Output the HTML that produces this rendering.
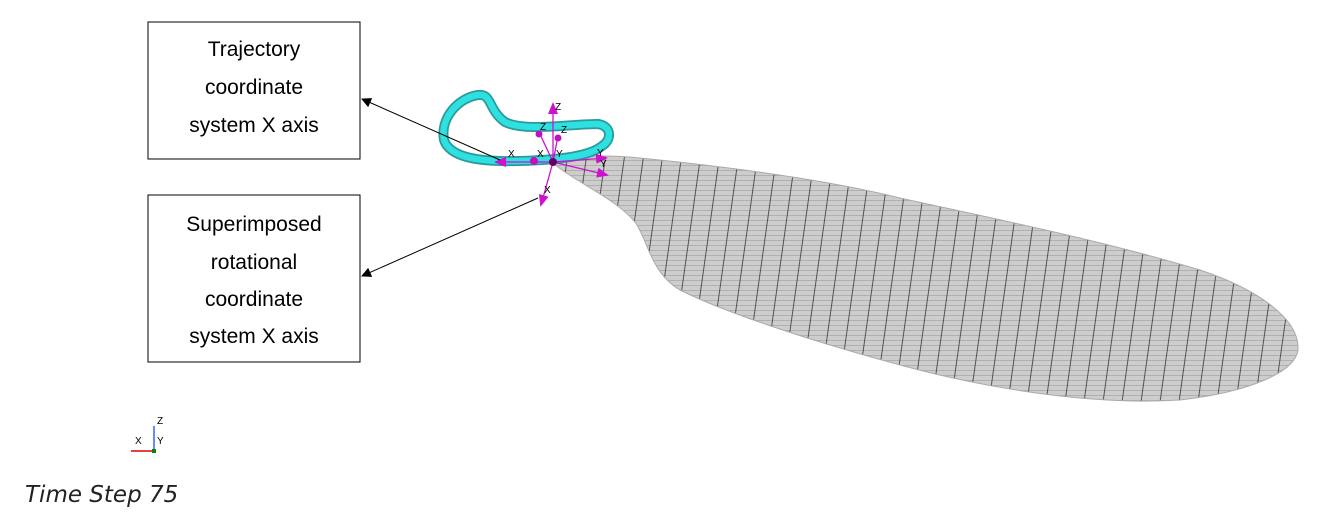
<!DOCTYPE html>
<html><head><meta charset="utf-8"><style>
html,body{margin:0;padding:0;background:#fff;width:1322px;height:522px;overflow:hidden}
svg{display:block}
.box{fill:#fff;stroke:#000;stroke-width:1}
.bt{font-family:"Liberation Sans",sans-serif;font-size:21px;fill:#000;text-anchor:middle}
.ax{font-family:"Liberation Sans",sans-serif;font-size:10px;fill:#000}
</style></head><body>
<svg width="1322" height="522" viewBox="0 0 1322 522">
<defs>
<pattern id="mesh" width="19" height="5" patternUnits="userSpaceOnUse" patternTransform="skewX(-8)">
<rect width="19" height="5" fill="#cdcdcd"/>
<line x1="0" y1="0.5" x2="19" y2="0.5" stroke="#9a9a9a" stroke-width="0.6"/>
<line x1="0.5" y1="0" x2="0.5" y2="5" stroke="#333" stroke-width="0.8"/>
</pattern>
<marker id="ah" markerWidth="10" markerHeight="10" refX="9" refY="5" orient="auto" markerUnits="userSpaceOnUse"><path d="M0,0 L10,5 L0,10 Z" fill="#000"/></marker>
<marker id="mh" markerWidth="12" markerHeight="10" refX="10" refY="5" orient="auto" markerUnits="userSpaceOnUse"><path d="M0,0 L12,5 L0,10 Z" fill="#d010d0"/></marker>
</defs>

<g>
<rect class="box" x="148" y="22" width="212" height="137"/>
<text class="bt" x="254" y="56">Trajectory</text>
<text class="bt" x="254" y="94">coordinate</text>
<text class="bt" x="254" y="132">system X axis</text>
</g>
<g>
<rect class="box" x="148" y="195" width="212" height="167"/>
<text class="bt" x="254" y="231">Superimposed</text>
<text class="bt" x="254" y="269">rotational</text>
<text class="bt" x="254" y="306">coordinate</text>
<text class="bt" x="254" y="343">system X axis</text>
</g>

<path fill="url(#mesh)" stroke="#aaa" stroke-width="1"
d="M553,163 C580,156 600,154 640,158 C720,166 820,178 900,198 C1000,220 1100,240 1200,270 C1260,290 1300,320 1298,350 C1295,372 1250,392 1180,400 C1100,405 1000,392 900,365 C800,338 720,310 680,290 C650,272 648,240 635,222 C615,198 575,182 553,163 Z"/>

<path fill="none" stroke="#2a9a9a" stroke-width="10" stroke-linecap="round"
d="M602,146 C590,156 560,160 520,161 C480,162 450,158 444,140 C440,118 458,98 478,95 C492,93 488,110 505,122 C525,132 570,124 598,124 C612,126 612,140 602,146"/>
<path fill="none" stroke="#2ee0e0" stroke-width="6.5" stroke-linecap="round"
d="M602,146 C590,156 560,160 520,161 C480,162 450,158 444,140 C440,118 458,98 478,95 C492,93 488,110 505,122 C525,132 570,124 598,124 C612,126 612,140 602,146"/>

<g stroke="#d010d0" stroke-width="1.3" fill="none">
<line x1="553" y1="162" x2="496" y2="162" marker-end="url(#mh)"/>
<line x1="553" y1="162" x2="553" y2="104" marker-end="url(#mh)"/>
<line x1="553" y1="162" x2="539" y2="132"/>
<line x1="553" y1="162" x2="558" y2="136"/>
<line x1="553" y1="162" x2="606" y2="158" marker-end="url(#mh)"/>
<line x1="553" y1="162" x2="607" y2="175" marker-end="url(#mh)"/>
<line x1="553" y1="162" x2="541" y2="205" marker-end="url(#mh)"/>
</g>
<g fill="#c010c0">
<circle cx="534" cy="161" r="4"/><circle cx="553" cy="162" r="4" fill="#600060"/>
<circle cx="539" cy="134" r="3.5"/><circle cx="558" cy="138" r="3.5"/>
</g>
<g>
<text class="ax" x="508" y="157">X</text><text class="ax" x="537" y="157">X</text>
<text class="ax" x="556" y="157">Y</text><text class="ax" x="555" y="110">Z</text>
<text class="ax" x="540" y="130">Z</text><text class="ax" x="561" y="133">Z</text>
<text class="ax" x="597" y="156">Y</text><text class="ax" x="600" y="167">Y</text>
<text class="ax" x="544" y="193">X</text>
</g>

<line x1="500" y1="160" x2="362" y2="99" stroke="#000" stroke-width="1" marker-end="url(#ah)"/>
<line x1="538" y1="198" x2="362" y2="276" stroke="#000" stroke-width="1" marker-end="url(#ah)"/>

<g>
<line x1="154" y1="451" x2="131" y2="451" stroke="#d00" stroke-width="1.5"/>
<line x1="154" y1="451" x2="154" y2="426" stroke="#36f" stroke-width="1.5"/>
<rect x="152" y="449" width="4" height="4" fill="#080"/>
<text class="ax" x="135" y="444" font-size="8">X</text>
<text class="ax" x="157" y="444" font-size="8">Y</text>
<text class="ax" x="157" y="424" font-size="8">Z</text>
</g>
<text x="25" y="502" font-family="'DejaVu Sans','Liberation Sans',sans-serif" font-style="italic" font-size="23" fill="#222">Time Step 75</text>
</svg>
</body></html>
